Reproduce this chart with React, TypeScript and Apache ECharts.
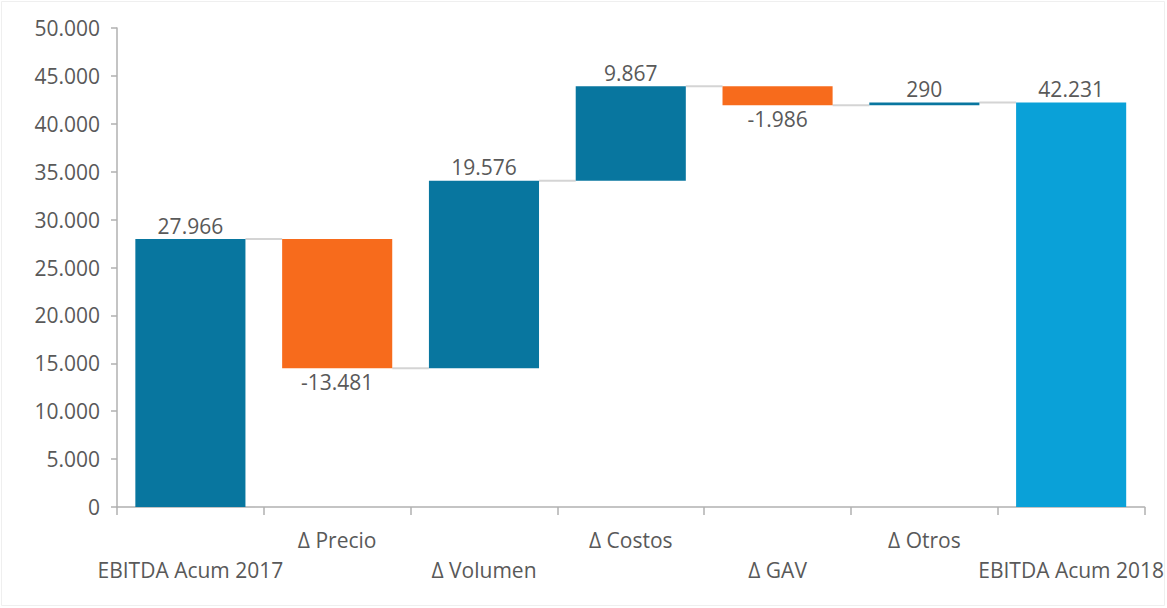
import React, { useEffect, useRef } from "react";
import * as echarts from "echarts";

// EBITDA bridge 2017 → 2018
const categories = [
  "EBITDA Acum 2017",
  "Δ Precio",
  "Δ Volumen",
  "Δ Costos",
  "Δ GAV",
  "Δ Otros",
  "EBITDA Acum 2018",
];
const changes = [27966, -13481, 19576, 9867, -1986, 290, 42231];
const isTotal = [true, false, false, false, false, false, true];
const yMin = 0;
const yMax = 50000;
const yStep = 5000;

const TEAL = "#08769f";
const ORANGE = "#f76b1c";
const SKY = "#0aa1d8";
const TEXT = "#595959";
const FONT = "'Open Sans', 'Noto Sans', sans-serif";
const FS = 21;

const fmt = (v: number) => {
  const s = Math.abs(Math.round(v))
    .toString()
    .replace(/\B(?=(\d{3})+(?!\d))/g, ".");
  return (v < 0 ? "-" : "") + s;
};

// Invisible base + visible segment for each step, and the running level after each step
const bases: number[] = [];
const heights: number[] = [];
const levels: number[] = [];
let running = 0;
changes.forEach((v, i) => {
  if (isTotal[i]) {
    bases.push(0);
    heights.push(v);
    running = v;
  } else if (v >= 0) {
    bases.push(running);
    heights.push(v);
    running += v;
  } else {
    running += v;
    bases.push(running);
    heights.push(-v);
  }
  levels.push(running);
});

const barColor = (i: number) =>
  i === changes.length - 1 ? SKY : changes[i] < 0 ? ORANGE : TEAL;

const BAR_RATIO = 0.75;

export default function App() {
  const ref = useRef<HTMLDivElement>(null);

  useEffect(() => {
    if (!ref.current) return;
    const chart = echarts.init(ref.current, null, { renderer: "svg" });

    const connectorData = levels.slice(0, -1).map((lv, i) => [i, lv]);

    chart.setOption({
      animation: false,
      backgroundColor: "#ffffff",
      textStyle: { fontFamily: FONT },
      grid: { left: 117, right: 22, top: 28, bottom: 101, containLabel: false },
      graphic: [
        {
          type: "rect",
          shape: { x: 1.5, y: 1.5, width: 1163, height: 604 },
          style: { fill: "none", stroke: "#efefef", lineWidth: 1 },
          silent: true,
        },
      ],
      xAxis: {
        type: "category",
        data: categories,
        boundaryGap: true,
        axisLine: { lineStyle: { color: "#b0b0b0", width: 1.5 } },
        axisTick: { show: true, length: 8, lineStyle: { color: "#b0b0b0", width: 1.5 } },
        axisLabel: {
          interval: 0,
          color: TEXT,
          fontSize: FS,
          fontFamily: FONT,
          lineHeight: 30,
          margin: 18,
          formatter: (val: string, idx: number) => (idx % 2 === 0 ? "\n" + val : val),
        },
        splitLine: { show: false },
      },
      yAxis: {
        type: "value",
        min: yMin,
        max: yMax,
        interval: yStep,
        axisLine: { show: true, lineStyle: { color: "#b0b0b0", width: 1.5 } },
        axisTick: { show: true, length: 6, lineStyle: { color: "#b0b0b0", width: 1.5 } },
        axisLabel: {
          color: TEXT,
          fontSize: FS,
          fontFamily: FONT,
          margin: 17,
          formatter: (v: number) => fmt(v),
        },
        splitLine: { show: false },
      },
      series: [
        {
          type: "bar",
          stack: "bridge",
          barWidth: `${BAR_RATIO * 100}%`,
          silent: true,
          itemStyle: { color: "transparent" },
          data: bases,
        },
        {
          type: "bar",
          stack: "bridge",
          barWidth: `${BAR_RATIO * 100}%`,
          data: heights.map((h, i) => ({
            value: h,
            itemStyle: { color: barColor(i) },
            label: {
              show: true,
              position: changes[i] < 0 ? "bottom" : "top",
              distance: 3,
              color: TEXT,
              fontSize: FS,
              fontFamily: FONT,
              formatter: () => fmt(changes[i]),
            },
          })),
        },
        {
          type: "custom",
          silent: true,
          encode: { x: 0, y: 1 },
          data: connectorData,
          z: 1,
          renderItem: (params: any, api: any) => {
            const i = api.value(0);
            const lv = api.value(1);
            const half = (api.size([1, 0])[0] * BAR_RATIO) / 2;
            const p1 = api.coord([i, lv]);
            const p2 = api.coord([i + 1, lv]);
            return {
              type: "line",
              shape: { x1: p1[0] + half, y1: p1[1], x2: p2[0] - half, y2: p2[1] },
              style: { stroke: "#d4d4d4", lineWidth: 2 },
            };
          },
        },
      ],
    });

    return () => chart.dispose();
  }, []);

  return (
    <div
      ref={ref}
      style={{ position: "fixed", left: 0, top: 0, width: 1167, height: 608 }}
    />
  );
}
